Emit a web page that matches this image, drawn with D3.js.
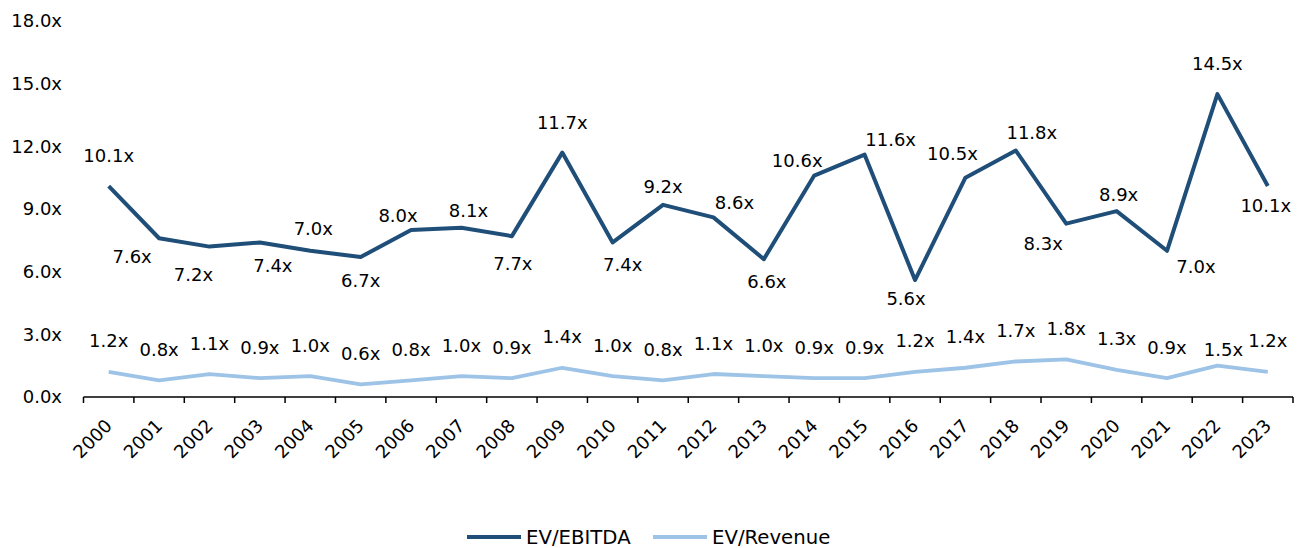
<!DOCTYPE html>
<html>
<head>
<meta charset="utf-8">
<script src="https://cdn.jsdelivr.net/npm/d3@7"></script>
<style>
  body { margin: 0; background: #fff; }
  text { font-family: "DejaVu Sans", sans-serif; fill: #000; }
</style>
</head>
<body>
<script>
var years = ["2000","2001","2002","2003","2004","2005","2006","2007","2008","2009","2010","2011",
             "2012","2013","2014","2015","2016","2017","2018","2019","2020","2021","2022","2023"];
var evEbitda  = [10.1,7.6,7.2,7.4,7.0,6.7,8.0,8.1,7.7,11.7,7.4,9.2,8.6,6.6,10.6,11.6,5.6,10.5,11.8,8.3,8.9,7.0,14.5,10.1];
var evRevenue = [1.2,0.8,1.1,0.9,1.0,0.6,0.8,1.0,0.9,1.4,1.0,0.8,1.1,1.0,0.9,0.9,1.2,1.4,1.7,1.8,1.3,0.9,1.5,1.2];
var yTicks = [0, 3, 6, 9, 12, 15, 18];
var seriesNames = ["EV/EBITDA", "EV/Revenue"];

// label nudges (layout only), [dx, dy] from the point
var ebitdaNudge = [[0,-31],[-27,18],[-16,28],[13,23],[3,-22],[0,23],[-13,-14],[7,-17],[1,27],[0,-30],[10,22],[0,-18],
                   [21,-15],[3,22],[-17,-15],[26,-15],[-9,18],[-13,-24],[16,-18],[-23,20],[2,-17],[29,16],[0,-31],[-2,19]];
var revenueNudge = years.map(function(d, i) { return i === 22 ? [6,-16] : [0,-31]; });

var colors = ["#1F4E79", "#9DC3E6"];

var svg = d3.select("body").append("svg")
  .attr("width", 1306)
  .attr("height", 548);

var x = d3.scaleBand().domain(years).range([83.5, 1293]);
var y = d3.scaleLinear().domain([0, 18]).range([397, 21]);
var fmt = function(v) { return d3.format(".1f")(v) + "x"; };

// y axis labels
var yAxis = svg.append("g")
  .attr("transform", "translate(70,0)")
  .call(d3.axisLeft(y).tickValues(yTicks).tickSize(0).tickPadding(8).tickFormat(fmt));
yAxis.select(".domain").remove();
yAxis.selectAll("text")
  .style("font-family", "DejaVu Sans")
  .style("font-size", "18px")
  .attr("fill", "#000");

// x axis
var xg = svg.append("g");
xg.append("line")
  .attr("x1", x.range()[0]).attr("x2", x.range()[1])
  .attr("y1", y(0)).attr("y2", y(0))
  .attr("stroke", "#000").attr("stroke-width", 1.5);
var edges = years.map(function(d) { return x(d); }).concat([x.range()[1]]);
xg.selectAll(".tick")
  .data(edges)
  .enter().append("line")
    .attr("x1", function(d) { return d; }).attr("x2", function(d) { return d; })
    .attr("y1", y(0)).attr("y2", y(0) + 6)
    .attr("stroke", "#000").attr("stroke-width", 1.5);
xg.selectAll(".yr")
  .data(years)
  .enter().append("text")
    .attr("transform", function(d) { return "translate(" + (x(d) + x.bandwidth() / 2 + 4.5) + "," + (y(0) + 30) + ") rotate(-45)"; })
    .attr("text-anchor", "end")
    .style("font-size", "18px")
    .text(function(d) { return d; });

var line = d3.line()
  .x(function(d, i) { return x(years[i]) + x.bandwidth() / 2; })
  .y(function(d) { return y(d); });

svg.append("path")
  .datum(evRevenue)
  .attr("d", line)
  .attr("fill", "none")
  .attr("stroke", colors[1])
  .attr("stroke-width", 3.8)
  .attr("stroke-linejoin", "round");

svg.append("path")
  .datum(evEbitda)
  .attr("d", line)
  .attr("fill", "none")
  .attr("stroke", colors[0])
  .attr("stroke-width", 4)
  .attr("stroke-linejoin", "round");

function addLabels(values, nudge, cls) {
  svg.selectAll("." + cls)
    .data(values)
    .enter().append("text")
      .attr("class", cls)
      .attr("x", function(d, i) { return x(years[i]) + x.bandwidth() / 2 + nudge[i][0]; })
      .attr("y", function(d, i) { return y(d) + nudge[i][1]; })
      .attr("dy", "0.36em")
      .attr("text-anchor", "middle")
      .style("font-size", "18px")
      .text(fmt);
}
addLabels(evEbitda, ebitdaNudge, "lbl-ebitda");
addLabels(evRevenue, revenueNudge, "lbl-rev");

// legend
var legendX = [467, 653];
var legend = svg.selectAll(".legend")
  .data(seriesNames)
  .enter().append("g")
    .attr("class", "legend")
    .attr("transform", function(d, i) { return "translate(" + legendX[i] + ",537)"; });
legend.append("line")
  .attr("x1", 0).attr("x2", 54)
  .attr("stroke", function(d, i) { return colors[i]; })
  .attr("stroke-width", 4);
legend.append("text")
  .attr("x", 59)
  .attr("dy", "0.36em")
  .style("font-size", "19.7px")
  .text(function(d) { return d; });
</script>
</body>
</html>
